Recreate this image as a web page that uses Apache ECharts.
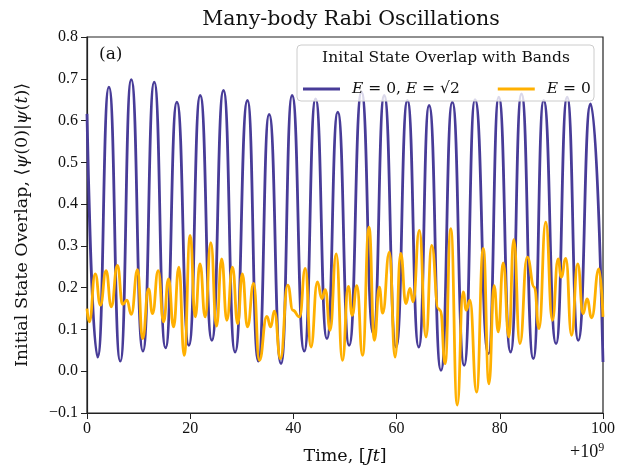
<!DOCTYPE html>
<html>
<head>
<meta charset="utf-8">
<script src="https://cdn.jsdelivr.net/npm/echarts@6/dist/echarts.min.js"></script>
<style>
  html, body { margin: 0; padding: 0; background: #fff; }
  #chart { width: 624px; height: 475px; }
</style>
</head>
<body>
<div id="chart"></div>
<script>
// purple curve: E = 0, E = sqrt(2) (peaks and troughs)
const bandT = [0, 2.06, 4.25, 6.45, 8.58, 10.84, 13.03, 15.22, 17.42, 19.74, 21.94, 24.2, 26.45, 28.7, 31.1, 33.2, 35.3, 37.6, 39.75, 42.1, 44.3, 46.5, 48.6, 50.8, 53.2, 55.5, 57.6, 59.9, 62.1, 64.3, 66.3, 68.6, 70.8, 73.1, 75.2, 77.8, 79.8, 82.1, 84.2, 86.5, 88.5, 90.9, 93.05, 95.2, 97.6, 100];
const bandV = [0.616, 0.034, 0.68, 0.024, 0.698, 0.048, 0.692, 0.056, 0.644, 0.062, 0.66, 0.074, 0.672, 0.046, 0.648, 0.024, 0.615, 0.018, 0.66, 0.048, 0.652, 0.078, 0.62, 0.062, 0.668, 0.09, 0.66, 0.058, 0.648, 0.058, 0.636, 0.002, 0.644, 0.014, 0.65, 0.042, 0.656, 0.046, 0.664, 0.03, 0.648, 0.066, 0.656, 0.074, 0.64, 0.022];

// orange curve: E = 0
const zeroT = [0, 0.45, 1.6, 2.6, 3.7, 4.7, 5.9, 6.9, 7.74, 8.58, 9.8, 10.77, 11.93, 12.7, 13.8, 14.84, 15.8, 16.77, 17.8, 18.84, 20.0, 20.97, 21.9, 22.9, 24.0, 25.1, 26.1, 27.1, 28.2, 29.2, 30.1, 31.1, 32.3, 33.4, 34.85, 35.6, 36.3, 37.5, 38.9, 39.9, 41.2, 42.3, 43.4, 44.65, 45.5, 46.2, 47.1, 48.3, 49.5, 50.65, 51.4, 52.3, 53.4, 54.65, 55.7, 56.65, 57.3, 58.6, 59.7, 60.8, 61.8, 62.6, 63.2, 64.4, 65.7, 66.8, 68.1, 68.5, 69.4, 70.5, 71.75, 72.9, 73.5, 74.2, 75.5, 76.8, 77.9, 78.9, 79.7, 80.66, 81.76, 82.7, 83.9, 85.3, 86.7, 87.6, 88.9, 90.2, 91.3, 91.9, 92.8, 93.9, 95.1, 96.15, 96.9, 97.8, 99.2, 100];
const zeroV = [0.15, 0.118, 0.233, 0.158, 0.241, 0.154, 0.253, 0.16, 0.17, 0.136, 0.243, 0.078, 0.197, 0.138, 0.241, 0.118, 0.221, 0.106, 0.249, 0.038, 0.325, 0.13, 0.257, 0.13, 0.308, 0.108, 0.269, 0.122, 0.249, 0.114, 0.233, 0.106, 0.21, 0.026, 0.131, 0.106, 0.144, 0.03, 0.206, 0.146, 0.13, 0.246, 0.058, 0.214, 0.174, 0.195, 0.098, 0.281, 0.026, 0.203, 0.134, 0.205, 0.038, 0.345, 0.074, 0.201, 0.139, 0.285, 0.034, 0.282, 0.162, 0.198, 0.166, 0.337, 0.082, 0.301, 0.15, 0.145, 0.018, 0.341, -0.081, 0.19, 0.146, 0.17, -0.05, 0.294, -0.03, 0.205, 0.094, 0.259, 0.082, 0.315, 0.066, 0.273, 0.201, 0.102, 0.357, 0.122, 0.269, 0.225, 0.27, 0.086, 0.257, 0.138, 0.173, 0.128, 0.245, 0.13];

const purple = '#483C98';
const orange = '#FFB000';
const serif = 'Liberation Serif, serif';
const wide = 'DejaVu Serif, serif';

function zip(a, b) {
  let out = []
  for (let i = 0; i < a.length; i++) out.push([a[i], b[i]])
  return out
}

const chart = echarts.init(document.getElementById('chart'));
const option = {
  animation: false,
  title: {
    text: 'Many-body Rabi Oscillations',
    left: 346, top: 4, textAlign: 'center',
    textStyle: { fontFamily: wide, fontSize: 20.5, fontWeight: 'normal', color: '#111' }
  },
  grid: {
    left: 87, right: 21, top: 37, bottom: 62,
    show: true, borderColor: '#222', borderWidth: 1.2, backgroundColor: 'transparent'
  },
  legend: {
    left: 298, top: 76, itemGap: 38, itemWidth: 37, itemHeight: 3,
    icon: 'rect', z: 6,
    textStyle: {
      fontFamily: wide, fontSize: 15.5, color: '#111',
      rich: {
        g: { width: 7 },
        i: { fontFamily: wide, fontSize: 15.5, fontStyle: 'italic', color: '#111' }
      }
    },
    formatter: function (name) {
      return name === 'band' ? '{g|}{i|E} = 0, {i|E} = √2' : '{g|}{i|E} = 0'
    },
    data: ['band', 'zero']
  },
  xAxis: {
    type: 'value', min: 0, max: 100, interval: 20,
    name: 'Time, [{i|Jt}]', nameLocation: 'middle', nameGap: 34,
    nameTextStyle: { fontFamily: wide, fontSize: 17.5, color: '#111',
      rich: { i: { fontFamily: wide, fontSize: 17.5, fontStyle: 'italic', color: '#111' } } },
    axisLine: { onZero: false, lineStyle: { color: '#222', width: 1.2 } },
    axisTick: { length: 6, lineStyle: { color: '#222' } },
    axisLabel: { fontFamily: serif, fontSize: 16, color: '#111', margin: 8 },
    splitLine: { show: false }
  },
  yAxis: {
    type: 'value', min: -0.1, max: 0.8, interval: 0.1,
    name: 'Initial State Overlap, ⟨{i|ψ}(0)|{i|ψ}({i|t})⟩', nameLocation: 'middle', nameGap: 56,
    nameTextStyle: { fontFamily: wide, fontSize: 17.5, color: '#111',
      rich: { i: { fontFamily: wide, fontSize: 17.5, fontStyle: 'italic', color: '#111' } } },
    axisLine: { show: true, onZero: false, lineStyle: { color: '#222', width: 1.2 } },
    axisTick: { show: true, length: 6, lineStyle: { color: '#222' } },
    axisLabel: {
      fontFamily: serif, fontSize: 16, color: '#111', margin: 9,
      formatter: v => (v < 0 ? '−' : '') + Math.abs(v).toFixed(1)
    },
    splitLine: { show: false }
  },
  graphic: [
    { type: 'rect', z: 5, shape: { x: 297, y: 45, width: 297, height: 56, r: 4 },
      style: { fill: 'rgba(255,255,255,0.8)', stroke: '#cccccc', lineWidth: 1 } },
    { type: 'text', z: 6, x: 446, y: 50,
      style: { text: 'Inital State Overlap with Bands', fontFamily: wide, fontSize: 15.5,
        fill: '#111', align: 'center' } },
    { type: 'text', z: 6, x: 99, y: 46,
      style: { text: '(a)', fontFamily: wide, fontSize: 17, fill: '#111' } },
    { type: 'text', z: 6, x: 570, y: 442,
      style: { text: '+10{s|9}', fontFamily: serif, fontSize: 18, fill: '#111',
        rich: { s: { fontFamily: serif, fontSize: 12, verticalAlign: 'top', padding: [0, 0, 9, 0] } } } }
  ],
  series: [
    {
      name: 'band', type: 'line', data: zip(bandT, bandV),
      showSymbol: false, smooth: 0.55, smoothMonotone: 'x', z: 2,
      lineStyle: { color: purple, width: 2.8 }, itemStyle: { color: purple }
    },
    {
      name: 'zero', type: 'line', data: zip(zeroT, zeroV),
      showSymbol: false, smooth: 0.5, smoothMonotone: 'x', z: 3,
      lineStyle: { color: orange, width: 2.8 }, itemStyle: { color: orange }
    }
  ]
};
chart.setOption(option);
</script>
</body>
</html>
